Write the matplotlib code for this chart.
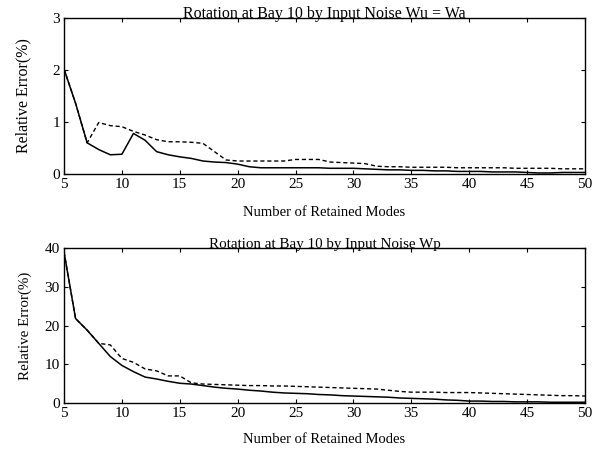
import numpy as np
import matplotlib
matplotlib.use("Agg")
import matplotlib.pyplot as plt

plt.rcParams['font.family'] = ['Liberation Serif', 'DejaVu Serif']

# retained modes
modes = list(range(5, 51))

# top panel: input noise Wu = Wa
top_solid = [2.02, 1.36, 0.60, 0.47, 0.37, 0.38, 0.78, 0.65, 0.43, 0.37,
             0.33, 0.30, 0.25, 0.23, 0.22, 0.19, 0.14, 0.12, 0.12, 0.12,
             0.12, 0.12, 0.12, 0.11, 0.11, 0.11, 0.10, 0.09, 0.08, 0.08,
             0.07, 0.07, 0.06, 0.06, 0.05, 0.05, 0.05, 0.04, 0.04, 0.04,
             0.03, 0.02, 0.02, 0.03, 0.03, 0.03]
top_dash = [2.02, 1.36, 0.60, 0.99, 0.93, 0.91, 0.82, 0.75, 0.66, 0.62,
            0.62, 0.61, 0.59, 0.43, 0.27, 0.25, 0.25, 0.25, 0.25, 0.25,
            0.28, 0.28, 0.28, 0.23, 0.22, 0.21, 0.20, 0.15, 0.14, 0.14,
            0.13, 0.13, 0.13, 0.13, 0.12, 0.12, 0.12, 0.12, 0.12, 0.11,
            0.11, 0.11, 0.11, 0.10, 0.10, 0.10]

# bottom panel: input noise Wp
bot_solid = [39.0, 21.8, 18.8, 15.4, 12.0, 9.7, 8.1, 6.7, 6.2, 5.6,
             5.1, 4.9, 4.5, 4.1, 3.8, 3.6, 3.3, 3.1, 2.8, 2.6,
             2.5, 2.4, 2.2, 2.1, 1.9, 1.8, 1.7, 1.6, 1.5, 1.3,
             1.2, 1.1, 1.0, 0.8, 0.7, 0.5, 0.5, 0.4, 0.4, 0.3,
             0.3, 0.3, 0.2, 0.2, 0.2, 0.2]
bot_dash = [39.0, 21.8, 18.8, 15.4, 15.0, 11.5, 10.5, 8.8, 8.3, 7.0,
            7.0, 5.2, 4.9, 4.8, 4.7, 4.6, 4.5, 4.5, 4.4, 4.4,
            4.3, 4.2, 4.1, 4.0, 3.9, 3.8, 3.7, 3.6, 3.3, 3.0,
            2.8, 2.8, 2.8, 2.7, 2.7, 2.7, 2.6, 2.5, 2.4, 2.3,
            2.2, 2.1, 2.0, 1.9, 1.9, 1.8]

titles = ["Rotation at Bay 10 by Input Noise Wu = Wa",
          "Rotation at Bay 10 by Input Noise Wp"]
title_sizes = [11.5, 10.8]
ylabel_pads = [15, 9]
yticks = [[0, 1, 2, 3], [0, 10, 20, 30, 40]]

fig = plt.figure(figsize=(6.02, 4.5), dpi=100)
ax1 = fig.add_axes([0.1063, 0.6133, 0.8654, 0.3467])
ax2 = fig.add_axes([0.1063, 0.1044, 0.8654, 0.3444])

panels = [(ax1, top_solid, top_dash), (ax2, bot_solid, bot_dash)]
for i, (ax, s, d) in enumerate(panels):
    ax.plot(modes, d, color='black', linestyle=(0, (3, 2)), linewidth=1.0)
    ax.plot(modes, s, color='black', linestyle='-', linewidth=1.1)
    ax.set_xlim(5, 50)
    ax.set_ylim(yticks[i][0], yticks[i][-1])
    ax.set_xticks(range(5, 51, 5))
    ax.set_yticks(yticks[i])
    ax.tick_params(direction='in', top=True, right=True, length=3,
                   labelsize=11, pad=3)
    for sp in ax.spines.values():
        sp.set_linewidth(1.0)
    ax.set_title(titles[i], fontsize=title_sizes[i], pad=0)
    ax.set_xlabel("Number of Retained Modes", fontsize=10.5,
                  labelpad=11 - 2 * i)
    ax.set_ylabel("Relative Error(%)", fontsize=11.5 - 0.7 * i,
                  labelpad=ylabel_pads[i])

fig.savefig("out.png", dpi=100)
